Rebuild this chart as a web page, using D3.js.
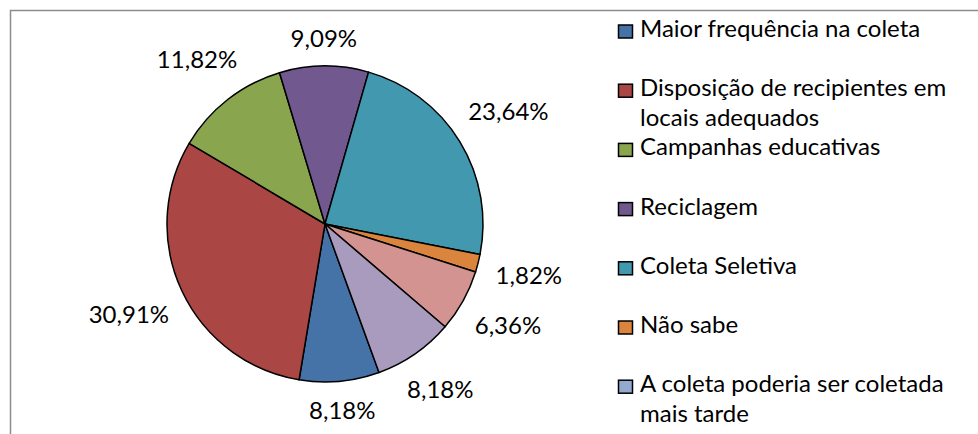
<!DOCTYPE html>
<meta charset="utf-8">
<style>
  body { margin: 0; background: #fff; }
  text { font-family: Lato, "Open Sans", sans-serif; fill: #000; }
</style>
<body>
<script src="https://cdn.jsdelivr.net/npm/d3@7"></script>
<script>

// slice values (%), in the order they are drawn clockwise
var sliceNames = ["Maior frequência na coleta", "Disposição de recipientes em locais adequados",
    "Campanhas educativas", "Reciclagem", "Coleta Seletiva", "Não sabe", "Outros",
    "A coleta poderia ser coletada mais tarde"];
var sliceValues = [8.18, 30.91, 11.82, 9.09, 23.64, 1.82, 6.36, 8.18];
var sliceColors = ["#4572A7", "#AA4643", "#89A54E", "#71588F", "#4198AF", "#DB843D", "#D29391", "#A99BBD"];

// legend entries that are visible in the chart area
var legendNames = ["Maior frequência na coleta", "Disposição de recipientes em locais adequados",
    "Campanhas educativas", "Reciclagem", "Coleta Seletiva", "Não sabe",
    "A coleta poderia ser coletada mais tarde"];
var legendColors = ["#4572A7", "#AA4643", "#89A54E", "#71588F", "#4198AF", "#DB843D", "#93A9CF"];

var width = 978, height = 434;
var cx = 325, cy = 224, radius = 158;
var fontSize = 24;

var svg = d3.select("body").append("svg")
    .attr("width", width)
    .attr("height", height);

// chart border (only top and left edges are in view)
svg.append("path")
    .attr("d", "M10.5," + height + "V10.5H" + width)
    .attr("fill", "none")
    .attr("stroke", "#8c8c8c")
    .attr("stroke-width", 1.5);

var pie = d3.pie()
    .sort(null)
    .value(function (d) { return d; })
    .startAngle(160 * Math.PI / 180)
    .endAngle(160 * Math.PI / 180 + 2 * Math.PI);

var arc = d3.arc().innerRadius(0).outerRadius(radius);
var arcs = pie(sliceValues);

var g = svg.append("g").attr("transform", "translate(" + cx + "," + cy + ")");

g.selectAll("path")
    .data(arcs)
    .enter().append("path")
    .attr("d", arc)
    .attr("fill", function (d, i) { return sliceColors[i]; })
    .attr("stroke", "#000")
    .attr("stroke-width", 1.5)
    .attr("stroke-linejoin", "round");

// percentage labels, placed just outside the pie
var fmt = d3.format(".2f");
var gap = 18, halfH = 9;
g.selectAll("text.lbl")
    .data(arcs)
    .enter().append("text")
    .attr("class", "lbl")
    .attr("font-size", fontSize)
    .attr("text-anchor", "middle")
    .text(function (d) { return fmt(d.value).replace(".", ",") + "%"; })
    .each(function (d) {
        var a = (d.startAngle + d.endAngle) / 2;
        var w = this.getComputedTextLength() / 2;
        var s = Math.sin(a), c = -Math.cos(a);
        var r = radius + gap + w * Math.abs(s) + halfH * Math.abs(c);
        d3.select(this)
            .attr("x", r * s)
            .attr("y", r * c + 8);
    });

// legend
var legend = svg.append("g");
var item = legend.selectAll("g")
    .data(legendNames)
    .enter().append("g")
    .attr("transform", function (d, i) { return "translate(618," + (37 + i * 59.2) + ")"; });

item.append("rect")
    .attr("x", 0.5)
    .attr("y", -12)
    .attr("width", 14)
    .attr("height", 13)
    .attr("fill", function (d, i) { return legendColors[i]; })
    .attr("stroke", "#000")
    .attr("stroke-width", 1.5);

item.append("text")
    .attr("x", 22)
    .attr("font-size", fontSize)
    .each(function (d) {
        var t = d3.select(this);
        var words = d.split(" ");
        var line = [];
        var tspan = t.append("tspan").attr("x", 22).attr("dy", 0);
        words.forEach(function (w) {
            line.push(w);
            tspan.text(line.join(" "));
            if (tspan.node().getComputedTextLength() > 340 && line.length > 1) {
                line.pop();
                tspan.text(line.join(" "));
                line = [w];
                tspan = t.append("tspan").attr("x", 22).attr("dy", 30).text(w);
            }
        });
    });

</script>
</body>
